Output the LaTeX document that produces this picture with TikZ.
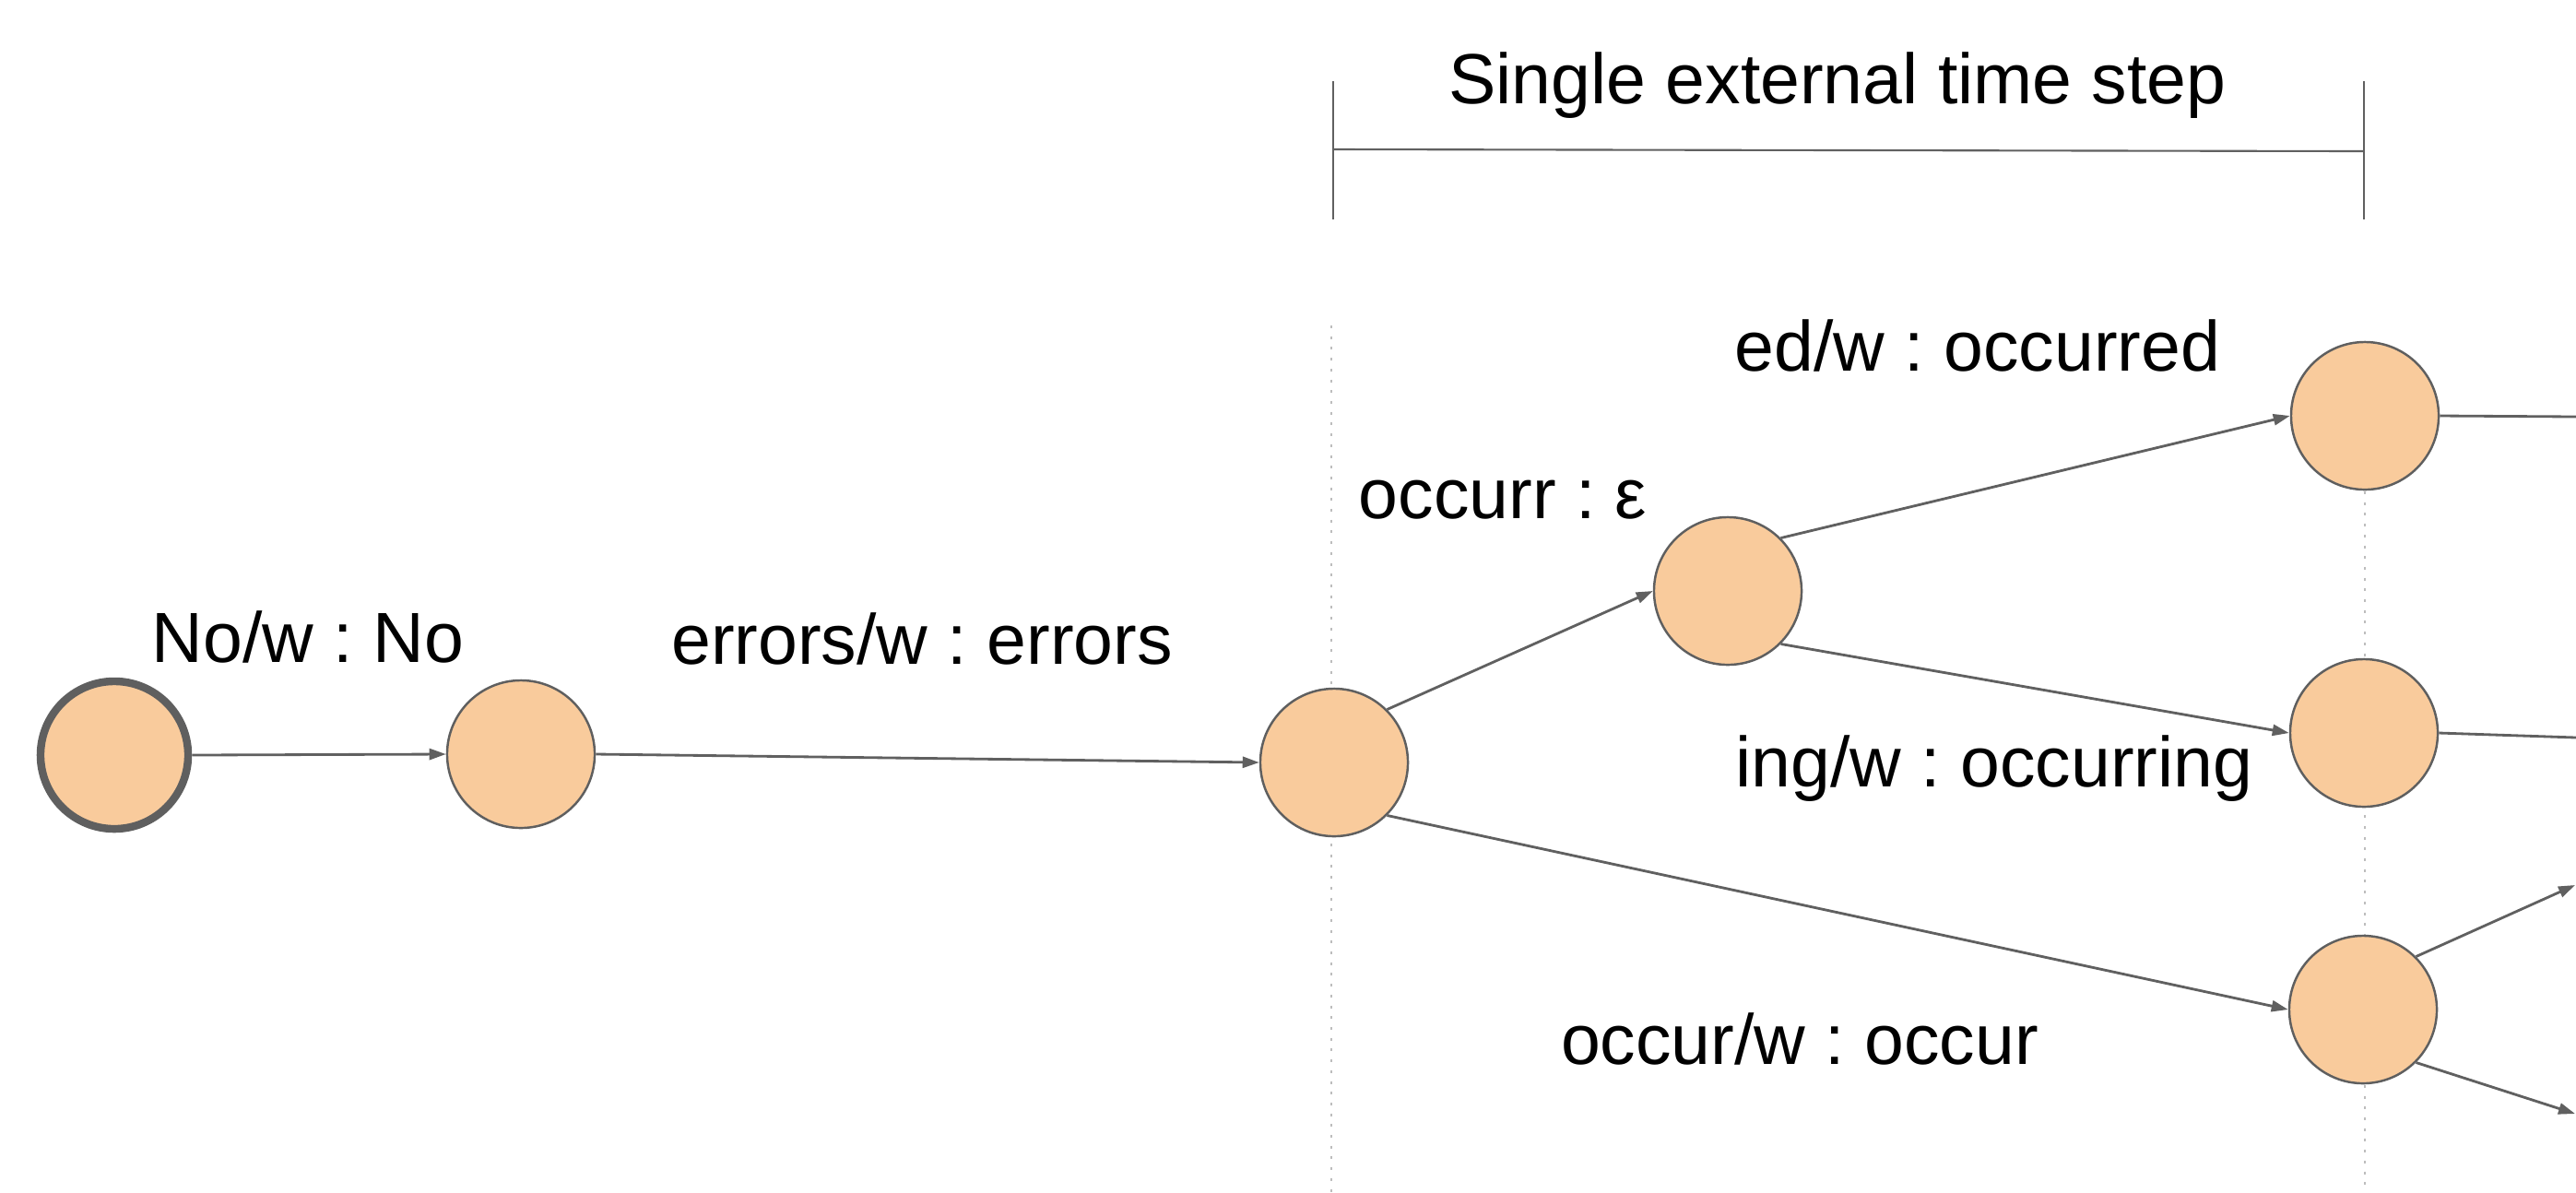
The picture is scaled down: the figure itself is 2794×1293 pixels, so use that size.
\documentclass[tikz,border=0pt]{standalone}
\usepackage{fontspec}
\setmainfont{Liberation Sans}
\usetikzlibrary{arrows.meta}

\definecolor{statefill}{HTML}{F9CB9C}
\definecolor{statedraw}{HTML}{5F5F5F}
\definecolor{edgecol}{HTML}{606060}
\definecolor{guidecol}{HTML}{BDBDBD}

\tikzset{
  state/.style={circle, draw=statedraw, line width=0.7pt, fill=statefill,
                minimum size=1.6cm, inner sep=0pt},
  startstate/.style={state, line width=2.4pt},
  trans/.style={draw=edgecol, line width=0.8pt,
                -{Triangle[length=0.18cm, width=0.12cm]}},
  plainedge/.style={draw=edgecol, line width=0.8pt},
  lbl/.style={anchor=base, inner sep=0pt,
              font=\fontsize{21.9pt}{26pt}\selectfont\frenchspacing},
  guide/.style={draw=guidecol, line width=0.6pt, dash pattern=on 0.03cm off 0.087cm},
  bracketline/.style={draw=edgecol, line width=0.6pt}
}

\begin{document}
\begin{tikzpicture}[x=0.01cm, y=-0.01cm]
  \useasboundingbox (0,0) rectangle (2794,1293);

  % time-step guides
  \coordinate (gl0) at (1444,353);
  \coordinate (gl1) at (1444,1293);
  \coordinate (gr0) at (2565,451);
  \coordinate (gr1) at (2565,1293);
  \draw[guide] (gl0) -- (gl1);
  \draw[guide] (gr0) -- (gr1);

  % bracket marking one external time step
  \coordinate (bl0) at (1446,88);
  \coordinate (bl1) at (1446,238);
  \coordinate (br0) at (2564,88);
  \coordinate (br1) at (2564,238);
  \coordinate (bm0) at (1446,162);
  \coordinate (bm1) at (2564,164);
  \draw[bracketline] (bl0) -- (bl1);
  \draw[bracketline] (br0) -- (br1);
  \draw[bracketline] (bm0) -- (bm1);
  \node[lbl] (steplbl) at (1993,112) {Single external time step};

  % states
  \node[startstate] (n1) at (124,819) {};
  \node[state] (n2) at (565,818) {};
  \node[state] (n3) at (1447,827) {};
  \node[state] (n4) at (1874,641) {};
  \node[state] (n5) at (2565,451) {};
  \node[state] (n6) at (2564,795) {};
  \node[state] (n7) at (2563,1095) {};

  % loose ends leaving the picture
  \coordinate (o5) at (2794,452);
  \coordinate (o6) at (2794,800);
  \coordinate (o7a) at (2793,960);
  \coordinate (o7b) at (2793,1208);

  % transitions
  \draw[trans] (n1.east) -- (n2.west);
  \draw[trans] (n2.east) -- (n3.west);
  \draw[trans] (n3.north east) -- (n4.west);
  \draw[trans] (n4.north east) -- (n5.west);
  \draw[trans] (n4.south east) -- (n6.west);
  \draw[trans] (n3.south east) -- (n7.west);
  \draw[plainedge] (n5.east) -- (o5);
  \draw[plainedge] (n6.east) -- (o6);
  \draw[trans] (n7.north east) -- (o7a);
  \draw[trans] (n7.south east) -- (o7b);

  % transition labels
  \node[lbl] (l12) at (334,718) {No/w : No};
  \node[lbl] (l23) at (1000,720) {errors/w : errors};
  \node[lbl] (l34) at (1630,562) {occurr : ε};
  \node[lbl] (l45) at (2145,402) {ed/w : occurred};
  \node[lbl] (l46) at (2163,853) {ing/w : occurring};
  \node[lbl] (l37) at (1952,1154) {occur/w : occur};
\end{tikzpicture}
\end{document}
